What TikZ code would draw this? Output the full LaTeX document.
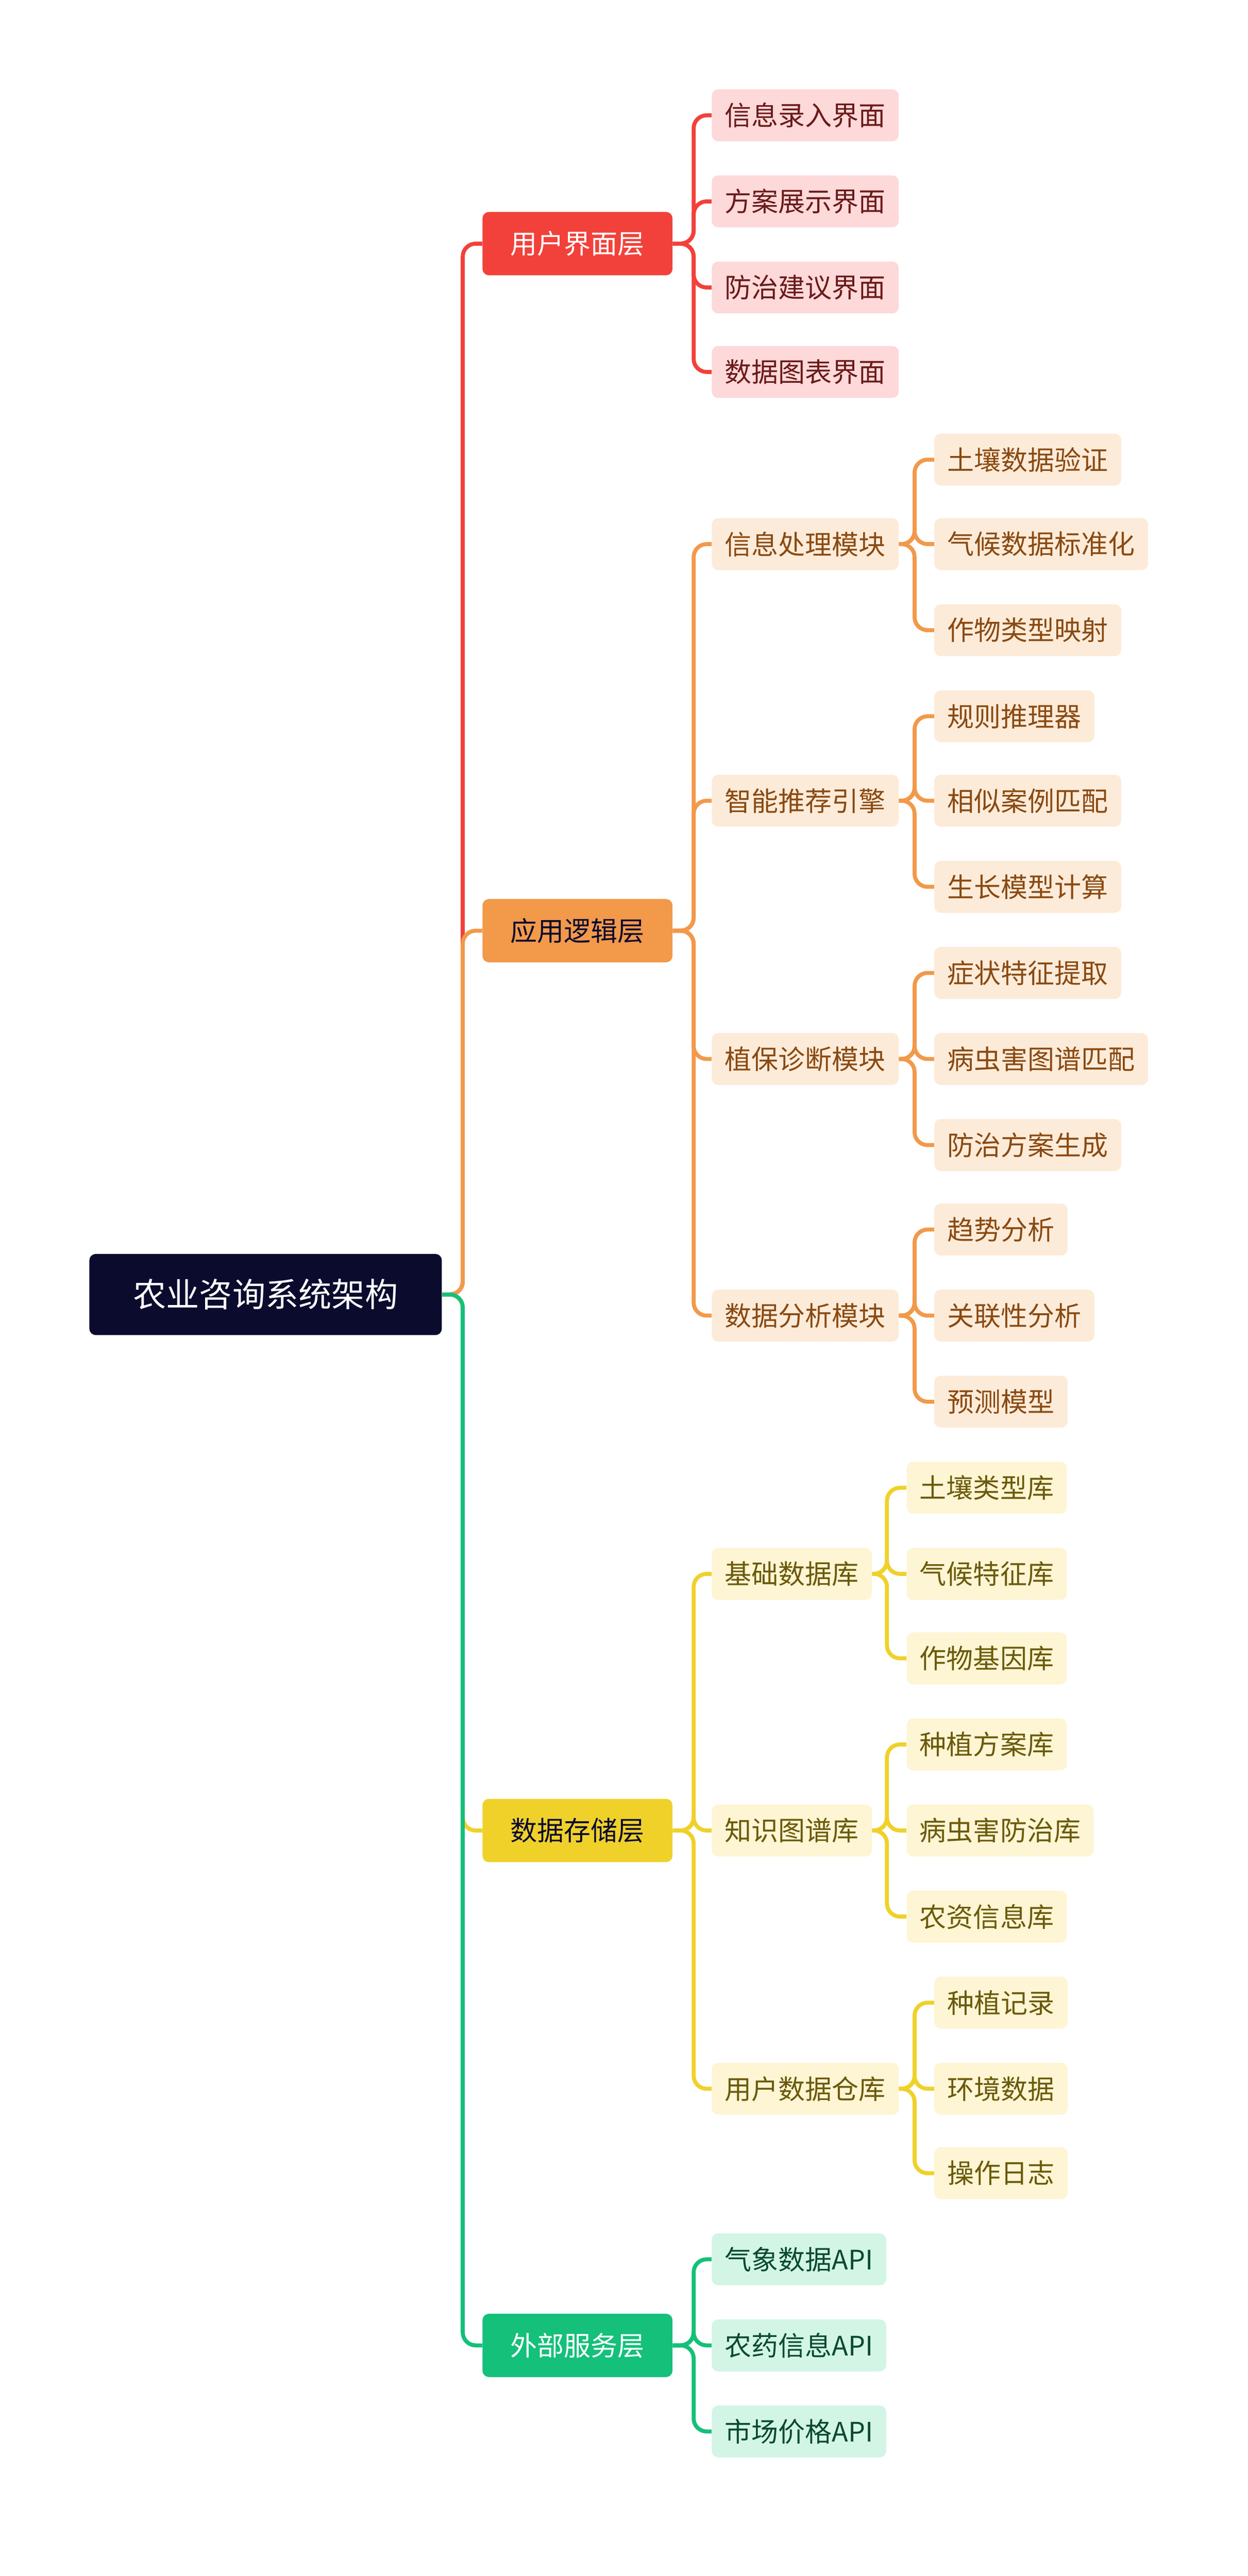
\documentclass[tikz,border=0pt]{standalone}
\usepackage{fontspec}
\setmainfont{Noto Sans CJK SC}
\usetikzlibrary{positioning}

\definecolor{rootc}{HTML}{0B0B2E}
\definecolor{redc}{HTML}{F2413A}
\definecolor{redl}{HTML}{FDD9D9}
\definecolor{redt}{HTML}{6B1A1A}
\definecolor{orac}{HTML}{F2994A}
\definecolor{oral}{HTML}{FDEBD9}
\definecolor{orat}{HTML}{8A4A12}
\definecolor{yelc}{HTML}{F0D12A}
\definecolor{yell}{HTML}{FDF5D3}
\definecolor{yelt}{HTML}{6B5A0A}
\definecolor{grnc}{HTML}{14C07A}
\definecolor{grnl}{HTML}{D2F5E6}
\definecolor{grnt}{HTML}{0B4A30}

\tikzset{
  box/.style={anchor=west, rounded corners=0.2cm, inner xsep=0.4cm, inner ysep=0pt,
              minimum height=1.6cm, font=\fontsize{23.5}{27}\selectfont},
  top/.style={box, minimum width=5.85cm, minimum height=1.95cm, align=center, anchor=center},
  link/.style={line width=3.5pt, rounded corners=0.4cm},
}

\begin{document}
\begin{tikzpicture}[x=0.05cm, y=-0.05cm]
    \useasboundingbox (0,0) rectangle (768,1586);

    % root
    \node [fill=rootc, text=white, minimum width=10.85cm, minimum height=2.5cm,
           rounded corners=0.2cm, font=\fontsize{29}{33}\selectfont] (root) at (163.5,797) {农业咨询系统架构};

    % layers
    \node [top, fill=redc, text=white] (ui) at (355.5,150) {用户界面层};
    \node [top, fill=orac, text=rootc] (logic) at (355.5,573) {应用逻辑层};
    \node [top, fill=yelc, text=rootc] (store) at (355.5,1127) {数据存储层};
    \node [top, fill=grnc, text=white] (ext) at (355.5,1444) {外部服务层};

    \draw [link, redc] (root.east) -| ([xshift=-0.6cm]ui.west) -- (ui.west);
    \draw [link, orac] (root.east) -| ([xshift=-0.6cm]logic.west) -- (logic.west);
    \draw [link, yelc] (root.east) -| ([xshift=-0.6cm]store.west) -- (store.west);
    \draw [link, grnc] (root.east) -| ([xshift=-0.6cm]ext.west) -- (ext.west);

    % user interface
    \node [box, fill=redl, text=redt] (ui1) at (438,71) {信息录入界面};
    \node [box, fill=redl, text=redt] (ui2) at (438,124) {方案展示界面};
    \node [box, fill=redl, text=redt] (ui3) at (438,177) {防治建议界面};
    \node [box, fill=redl, text=redt] (ui4) at (438,229) {数据图表界面};
    \foreach \c in {ui1,ui2,ui3,ui4}
        \draw [link, redc] (ui.east) -| ([xshift=-0.55cm]\c.west) -- (\c.west);

    % logic
    \node [box, fill=oral, text=orat] (lg1) at (438,335) {信息处理模块};
    \node [box, fill=oral, text=orat] (lg2) at (438,493) {智能推荐引擎};
    \node [box, fill=oral, text=orat] (lg3) at (438,652) {植保诊断模块};
    \node [box, fill=oral, text=orat] (lg4) at (438,810) {数据分析模块};
    \foreach \c in {lg1,lg2,lg3,lg4}
        \draw [link, orac] (logic.east) -| ([xshift=-0.55cm]\c.west) -- (\c.west);

    \node [box, fill=oral, text=orat] (lg11) at (575,283) {土壤数据验证};
    \node [box, fill=oral, text=orat] (lg12) at (575,335) {气候数据标准化};
    \node [box, fill=oral, text=orat] (lg13) at (575,388) {作物类型映射};
    \node [box, fill=oral, text=orat] (lg21) at (575,441) {规则推理器};
    \node [box, fill=oral, text=orat] (lg22) at (575,493) {相似案例匹配};
    \node [box, fill=oral, text=orat] (lg23) at (575,546) {生长模型计算};
    \node [box, fill=oral, text=orat] (lg31) at (575,599) {症状特征提取};
    \node [box, fill=oral, text=orat] (lg32) at (575,652) {病虫害图谱匹配};
    \node [box, fill=oral, text=orat] (lg33) at (575,705) {防治方案生成};
    \node [box, fill=oral, text=orat] (lg41) at (575,757) {趋势分析};
    \node [box, fill=oral, text=orat] (lg42) at (575,810) {关联性分析};
    \node [box, fill=oral, text=orat] (lg43) at (575,863) {预测模型};
    \foreach \p in {lg1,lg2,lg3,lg4}
        \foreach \k in {1,2,3}
            \draw [link, orac] (\p.east) -| ([xshift=-0.6cm]\p\k.west) -- (\p\k.west);

    % storage
    \node [box, fill=yell, text=yelt] (st1) at (438,969) {基础数据库};
    \node [box, fill=yell, text=yelt] (st2) at (438,1127) {知识图谱库};
    \node [box, fill=yell, text=yelt] (st3) at (438,1286) {用户数据仓库};
    \foreach \c in {st1,st2,st3}
        \draw [link, yelc] (store.east) -| ([xshift=-0.55cm]\c.west) -- (\c.west);

    \node [box, fill=yell, text=yelt] (st11) at (558,916) {土壤类型库};
    \node [box, fill=yell, text=yelt] (st12) at (558,969) {气候特征库};
    \node [box, fill=yell, text=yelt] (st13) at (558,1021) {作物基因库};
    \node [box, fill=yell, text=yelt] (st21) at (558,1074) {种植方案库};
    \node [box, fill=yell, text=yelt] (st22) at (558,1127) {病虫害防治库};
    \node [box, fill=yell, text=yelt] (st23) at (558,1180) {农资信息库};
    \node [box, fill=yell, text=yelt] (st31) at (575,1233) {种植记录};
    \node [box, fill=yell, text=yelt] (st32) at (575,1286) {环境数据};
    \node [box, fill=yell, text=yelt] (st33) at (575,1338) {操作日志};
    \foreach \p in {st1,st2,st3}
        \foreach \k in {1,2,3}
            \draw [link, yelc] (\p.east) -| ([xshift=-0.6cm]\p\k.west) -- (\p\k.west);

    % external
    \node [box, fill=grnl, text=grnt] (ex1) at (438,1391) {气象数据API};
    \node [box, fill=grnl, text=grnt] (ex2) at (438,1444) {农药信息API};
    \node [box, fill=grnl, text=grnt] (ex3) at (438,1497) {市场价格API};
    \foreach \c in {ex1,ex2,ex3}
        \draw [link, grnc] (ext.east) -| ([xshift=-0.55cm]\c.west) -- (\c.west);
\end{tikzpicture}
\end{document}
